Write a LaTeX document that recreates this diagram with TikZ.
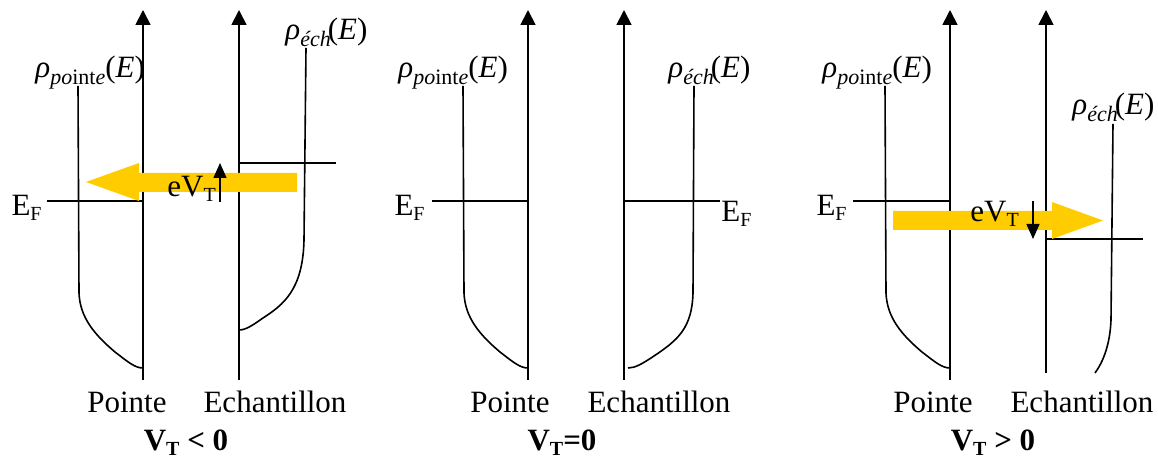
\documentclass[tikz,border=0pt]{standalone}
\usepackage{fontspec}
\setmainfont{Liberation Serif}
\usetikzlibrary{arrows.meta}
\definecolor{jaune}{HTML}{FFCC00}
\newcommand{\ind}[1]{\raisebox{-0.3ex}{\fontsize{10}{10}\selectfont #1}}
\newcommand{\rhopointe}{\textit{ρ}\raisebox{-0.45ex}{\fontsize{11}{11}\selectfont\textit{po}int\textit{e}}(\textit{E})}
\newcommand{\rhoech}{\textit{ρ}\raisebox{-0.45ex}{\fontsize{11}{11}\selectfont\textit{éch}}\kern-1.5pt(\textit{E})}
\tikzset{
  axe/.style={line width=0.9pt, -{Triangle[width=7.5pt,length=7.5pt]}},
  trait/.style={line width=0.8pt},
  fleche/.style={line width=0.7pt, -{Triangle[width=6.5pt,length=7.5pt]}},
  flux/.style={fill=jaune},
  txt/.style={font=\fontsize{15.5}{18}\selectfont, inner sep=0pt},
  titre/.style={font=\fontsize{15.5}{18}\selectfont\bfseries, inner sep=0pt},
}
\begin{document}
\begin{tikzpicture}[x=0.5pt,y=-0.5pt]
  \useasboundingbox (0,0) rectangle (1158,459);

  % V_T < 0 : courant de l'echantillon vers la pointe
  \begin{scope}[shift={(143,0)}]
    \draw[axe] (0,380) -- (0,10);
    \draw[axe] (96,380) -- (96,10);
    \draw[trait] (-65,86) -- (-64,293) .. controls (-63,318) and (-48,335) .. (-28,352) .. controls (-15,362) and (-8,368) .. (0,368);
    \draw[trait] (163,48) -- (161,240) .. controls (160,290) and (140,305) .. (120,318) .. controls (110,325) and (103,330) .. (96,330);
    \draw[trait] (-96,201) -- (0,201);
    \draw[trait] (96,163) -- (193,163);
    \fill[flux] (-4,173) -- (154,173) -- (154,192) -- (-4,192) -- (-4,201) -- (-57,182) -- (-4,163) -- cycle;
    \draw[fleche] (77,202) -- (77,163);
    \node[txt, anchor=base west] (ev1) at (24,197) {eV\ind{T}};
    \node[txt, anchor=base east] (ef1) at (-101,216) {E\ind{F}};
    \node[txt, anchor=base west] (rp1) at (-108,78) {\rhopointe};
    \node[txt, anchor=base west] (re1) at (142,40) {\rhoech};
    \node[txt, anchor=base] (po1) at (-16,413) {Pointe};
    \node[txt, anchor=base] (ec1) at (132,413) {Echantillon};
    \node[titre, anchor=base] (vt1) at (43,451) {V\ind{T} < 0};
  \end{scope}

  % V_T = 0 : niveaux de Fermi alignes
  \begin{scope}[shift={(528,0)}]
    \draw[axe] (0,380) -- (0,10);
    \draw[axe] (96,380) -- (96,10);
    \draw[trait] (-65,86) -- (-64,293) .. controls (-63,318) and (-48,335) .. (-28,352) .. controls (-15,362) and (-8,368) .. (0,368);
    \draw[trait] (166,86) -- (165,293) .. controls (164,328) and (150,340) .. (126,356) .. controls (114,364) and (107,368) .. (100,368);
    \draw[trait] (-96,201) -- (0,201);
    \draw[trait] (96,201) -- (192,201);
    \node[txt, anchor=base east] (ef2a) at (-103,216) {E\ind{F}};
    \node[txt, anchor=base west] (ef2b) at (193,222) {E\ind{F}};
    \node[txt, anchor=base west] (rp2) at (-130,78) {\rhopointe};
    \node[txt, anchor=base west] (re2) at (140,78) {\rhoech};
    \node[txt, anchor=base] (po2) at (-18,413) {Pointe};
    \node[txt, anchor=base] (ec2) at (131,413) {Echantillon};
    \node[titre, anchor=base] (vt2) at (34,451) {V\ind{T}=0};
  \end{scope}

  % V_T > 0 : courant de la pointe vers l'echantillon
  \begin{scope}[shift={(950,0)}]
    \draw[axe] (0,380) -- (0,10);
    \draw[axe] (96,373) -- (96,10);
    \draw[trait] (-65,86) -- (-64,293) .. controls (-63,318) and (-48,335) .. (-28,352) .. controls (-15,362) and (-8,368) .. (0,368);
    \draw[trait] (163,124) -- (161,320) .. controls (160,345) and (153,362) .. (145,373);
    \draw[trait] (-97,201) -- (0,201);
    \draw[trait] (96,239) -- (193,239);
    \fill[flux] (-57,211) -- (102,211) -- (102,202) -- (153,220.5) -- (102,239) -- (102,230) -- (-57,230) -- cycle;
    \draw[fleche] (83,201) -- (83,239);
    \node[txt, anchor=base west] (ev3) at (20,222) {eV\ind{T}};
    \node[txt, anchor=base east] (ef3) at (-103,216) {E\ind{F}};
    \node[txt, anchor=base west] (rp3) at (-128,78) {\rhopointe};
    \node[txt, anchor=base west] (re3) at (122,115) {\rhoech};
    \node[txt, anchor=base] (po3) at (-17,413) {Pointe};
    \node[txt, anchor=base] (ec3) at (132,413) {Echantillon};
    \node[titre, anchor=base] (vt3) at (43,451) {V\ind{T} > 0};
  \end{scope}
\end{tikzpicture}
\end{document}
